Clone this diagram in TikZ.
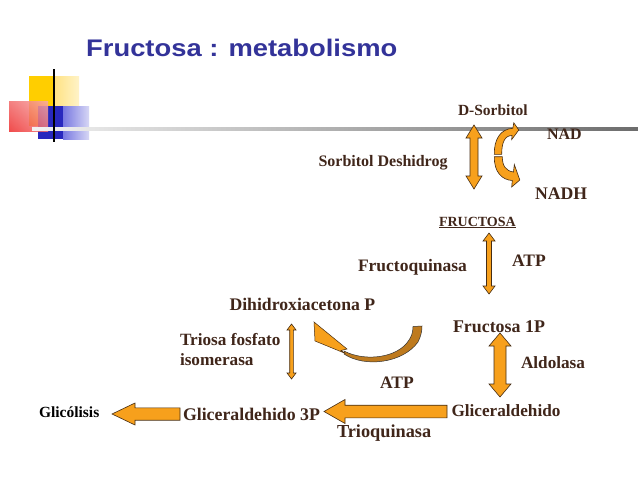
\documentclass[tikz,border=0pt]{standalone}
\usepackage{fontspec}
\usepackage{graphicx}
\usetikzlibrary{shadings}
\setmainfont{Liberation Serif}
\newfontfamily\titlefont{Liberation Sans}
\definecolor{txt}{RGB}{64,38,26}
\definecolor{titleblue}{RGB}{51,51,153}
\definecolor{org}{RGB}{247,160,28}
\definecolor{edgec}{RGB}{70,45,20}
\definecolor{tailc}{RGB}{190,122,30}
\definecolor{ygold}{RGB}{255,206,0}
\definecolor{ylight}{RGB}{255,226,130}
\definecolor{ylighter}{RGB}{255,243,200}
\definecolor{rdark}{RGB}{238,45,45}
\definecolor{rlight}{RGB}{247,170,170}
\definecolor{bdark}{RGB}{40,40,190}
\definecolor{blight}{RGB}{120,120,225}
\definecolor{blighter}{RGB}{215,215,245}
\newcommand\fsz[1]{\fontsize{#1}{#1}\selectfont}
\tikzset{
  lbl/.style={anchor=base west, inner sep=0pt, outer sep=0pt, text=txt, font=\bfseries\fsz{#1}},
  blockarrow/.style={fill=org, draw=edgec, line width=0.6pt, line join=miter},
}
% vertical double arrow: cx, ytop, ybot, head half width, shaft half width, head length
\newcommand\vdarr[6]{%
  \filldraw[blockarrow] (#1,#2) -- ({#1+#4},{#2+#6}) -- ({#1+#5},{#2+#6}) -- ({#1+#5},{#3-#6})
    -- ({#1+#4},{#3-#6}) -- (#1,#3) -- ({#1-#4},{#3-#6}) -- ({#1-#5},{#3-#6})
    -- ({#1-#5},{#2+#6}) -- ({#1-#4},{#2+#6}) -- cycle;}
% horizontal left arrow: xtip, xback, xend, yc, head half, shaft half
\newcommand\hlarr[6]{%
  \filldraw[blockarrow] (#1,#4) -- (#2,{#4-#5}) -- (#2,{#4-#6}) -- (#3,{#4-#6})
    -- (#3,{#4+#6}) -- (#2,{#4+#6}) -- (#2,{#4+#5}) -- cycle;}
\begin{document}
\begin{tikzpicture}[x=1pt,y=-1pt]
\useasboundingbox (0,0) rectangle (638,479);
\fill[white] (0,0) rectangle (638,479);
% decoration
\fill[ygold] (29,76) rectangle (54,126);
\shade[left color=ylight, right color=ylighter] (54,76) rectangle (79,126);
\fill[bdark] (38,106) rectangle (63,139);
\shade[left color=blight, right color=blighter] (63,106) rectangle (89,139);
\shade[lower left=rdark, upper right=rlight, lower right=rlight!60!rdark, upper left=rlight!50!rdark, opacity=0.85] (9,101) rectangle (48,131);
\shade[left color=gray!10, right color=gray!85!black] (32,127) rectangle (638,130.5);
\draw[black, line width=1.5pt] (54,69) -- (54,142);
% title
\node[anchor=base west, inner sep=0pt, text=titleblue, font=\titlefont\bfseries\fsz{24}] (title) at (86,56.7) {\scalebox{1.14}[1]{Fructosa : metabolismo}};
% labels
\node[lbl=15.5] (dsorb) at (458,115.5) {D-Sorbitol};
\node[lbl=16] (nad) at (547,139) {NAD};
\node[lbl=16] (sdh) at (318.5,166) {Sorbitol Deshidrog};
\node[lbl=17.7] (nadh) at (535,199) {NADH};
\node[lbl=14] (fruc) at (439,226) {\underline{FRUCTOSA}};
\node[lbl=17.5] (fq) at (358,271.7) {Fructoquinasa};
\node[lbl=17.5] (atp1) at (512,266.7) {ATP};
\node[lbl=17.7] (dhap) at (229.5,310) {Dihidroxiacetona P};
\node[lbl=17.9] (f1p) at (453,332) {Fructosa 1P};
\node[lbl=17.2] (tfi1) at (180,345) {Triosa fosfato};
\node[lbl=17.2] (tfi2) at (180,365.5) {isomerasa};
\node[lbl=17.2] (ald) at (521,368) {Aldolasa};
\node[lbl=17.5] (atp2) at (380,388) {ATP};
\node[lbl=17.2] (gald) at (451.5,416) {Gliceraldehido};
\node[lbl=17.8] (g3p) at (183,420) {Gliceraldehido 3P};
\node[lbl=18.3] (trq) at (337,437) {Trioquinasa};
\node[lbl=15.5, text=black] (glic) at (39,417) {Glicólisis};
% vertical double arrows
\vdarr{474}{125}{189}{8}{4}{13}
\vdarr{489}{233}{294}{6}{2.5}{8}
\vdarr{500}{333}{397}{11}{6}{13}
\vdarr{291.5}{324}{379}{4.5}{1.8}{6}
% horizontal arrows
\hlarr{112}{135}{180}{414}{11}{6.2}
\hlarr{324}{345}{447}{411.5}{12}{6.3}
% curved arrows NAD / NADH
\filldraw[blockarrow] (494.3,154.3) .. controls (494,140) and (500,129) .. (512.8,128.3)
  -- (513.8,122.8) -- (518.8,130) -- (511.7,139.5) -- (512,135.5)
  .. controls (505,135.5) and (501.7,142) .. (501.7,154.3) -- cycle;
\filldraw[blockarrow] (494.3,156.7) .. controls (494,172) and (502,180) .. (512.3,180.5)
  -- (511.7,187) -- (519.8,180) -- (514.3,164.5) -- (513.5,172)
  .. controls (506,171) and (502.3,166) .. (502.3,156.7) -- cycle;
% curved arrow Dihidroxiacetona
\filldraw[fill=tailc, draw=black!80, line width=0.5pt] (344,354) .. controls (365,368) and (403,363) .. (418,342)
  .. controls (421,336) and (422,331) .. (422,326) -- (413,326.5)
  .. controls (413,333) and (411,337) .. (409,340)
  .. controls (398,358) and (365,362) .. (344,351) -- cycle;
\filldraw[fill=org, draw=edgec, line width=0.5pt] (314,322) -- (347,349) -- (341,350.5) -- (345.5,353.5) -- (315,341) -- cycle;
\end{tikzpicture}
\end{document}
